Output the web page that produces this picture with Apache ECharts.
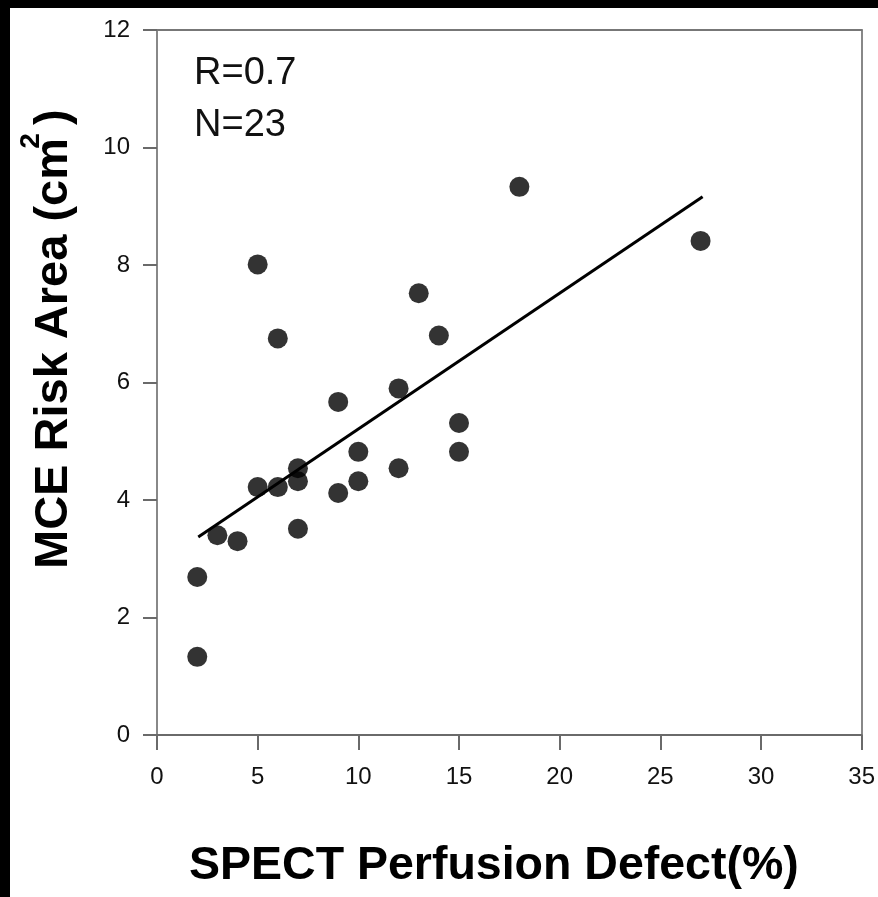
<!DOCTYPE html>
<html>
<head>
<meta charset="utf-8">
<script src="https://cdn.jsdelivr.net/npm/echarts@6/dist/echarts.min.js"></script>
<style>
html,body{margin:0;padding:0;background:#000;width:878px;height:897px;overflow:hidden;}
#chart{position:absolute;left:10px;top:8px;width:868px;height:889px;background:#fff;}
</style>
</head>
<body>
<div id="chart"></div>
<script>
// Data
const spectDefect = [2, 2, 3, 4, 5, 6, 7, 7, 7, 5, 6, 9, 9, 10, 10, 12, 12, 15, 15, 14, 13, 18, 27];
const mceRiskArea = [1.33, 2.69, 3.4, 3.3, 4.22, 4.22, 4.54, 4.32, 3.51, 8.01, 6.75, 4.12, 5.67, 4.82, 4.32, 4.54, 5.9, 4.82, 5.31, 6.8, 7.52, 9.33, 8.41];
const fitX = [2.05, 27.1];
const fitY = [3.37, 9.16];
const xTicks = [0, 5, 10, 15, 20, 25, 30, 35];
const yTicks = [0, 2, 4, 6, 8, 10, 12];
const statLines = ['R=0.7', 'N=23'];

const points = spectDefect.map((x, i) => [x, mceRiskArea[i]]);
const fitLine = fitX.map((x, i) => [x, fitY[i]]);

const chart = echarts.init(document.getElementById('chart'), null, {renderer: 'canvas'});
const axisGrey = '#6a6a6a';
const font = 'Arial, "Liberation Sans", sans-serif';

chart.setOption({
  animation: false,
  backgroundColor: '#fff',
  grid: {left: 147, right: 16, top: 22, bottom: 162, containLabel: false},
  xAxis: [{
    type: 'value', min: xTicks[0], max: xTicks[xTicks.length - 1], interval: 5,
    axisLine: {show: true, lineStyle: {color: axisGrey, width: 2}},
    axisTick: {show: true, inside: false, length: 15, lineStyle: {color: axisGrey, width: 2}},
    axisLabel: {show: true, margin: 30, color: '#111', fontSize: 24, fontFamily: font},
    splitLine: {show: false}
  }, {
    type: 'value', position: 'top', min: 0, max: 35,
    axisLine: {show: true, onZero: false, lineStyle: {color: '#777', width: 2}},
    axisTick: {show: false}, axisLabel: {show: false}, splitLine: {show: false}
  }],
  yAxis: [{
    type: 'value', min: yTicks[0], max: yTicks[yTicks.length - 1], interval: 2,
    axisLine: {show: true, lineStyle: {color: '#888', width: 2}},
    axisTick: {show: true, inside: false, length: 14, lineStyle: {color: axisGrey, width: 2}},
    axisLabel: {show: true, margin: 27, color: '#111', fontSize: 24, fontFamily: font},
    splitLine: {show: false}
  }, {
    type: 'value', position: 'right', min: 0, max: 12,
    axisLine: {show: true, onZero: false, lineStyle: {color: '#888', width: 2}},
    axisTick: {show: false}, axisLabel: {show: false}, splitLine: {show: false}
  }],
  series: [{
    type: 'line', data: fitLine, xAxisIndex: 0, yAxisIndex: 0,
    showSymbol: false, symbol: 'none',
    lineStyle: {color: '#000', width: 3}, z: 2
  }, {
    type: 'scatter', data: points, xAxisIndex: 0, yAxisIndex: 0,
    symbol: 'circle', symbolSize: 20,
    itemStyle: {color: '#000'}, z: 3
  }],
  graphic: [
    {type: 'text', left: 184, top: 40, z: 10,
      style: {text: statLines.join('\n'), font: '38px ' + font, fill: '#111', lineHeight: 52}},
    {type: 'text', x: 179, y: 858, z: 10,
      style: {text: 'SPECT Perfusion Defect(%)', font: 'bold 46.5px ' + font, fill: '#000', align: 'left', verticalAlign: 'middle'}},
    {type: 'text', x: 44, y: 561, rotation: Math.PI / 2, z: 10,
      style: {text: 'MCE Risk Area (cm )', font: 'bold 47px ' + font, fill: '#000', align: 'left', verticalAlign: 'middle'}},
    {type: 'text', x: 21, y: 133, rotation: Math.PI / 2, z: 10,
      style: {text: '2', font: 'bold 28px ' + font, fill: '#000', align: 'center', verticalAlign: 'middle'}}
  ]
});
</script>
</body>
</html>
